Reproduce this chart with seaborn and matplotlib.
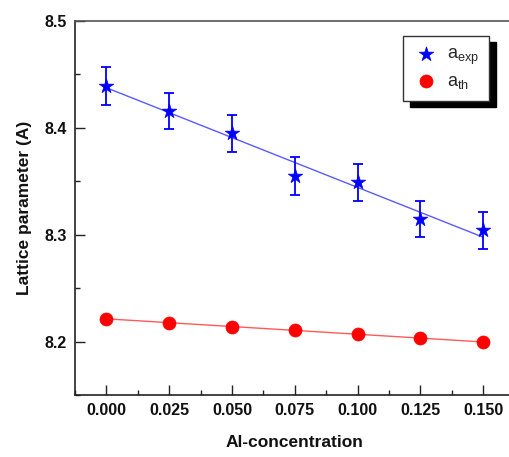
import numpy as np
import pandas as pd
import matplotlib
matplotlib.use("Agg")
import matplotlib.pyplot as plt
import matplotlib.legend as mleg
import seaborn as sns

# ---- data ----
al_conc = [0.000, 0.025, 0.050, 0.075, 0.100, 0.125, 0.150]
a_exp = [8.439, 8.416, 8.395, 8.355, 8.349, 8.315, 8.304]
a_exp_err = [0.0175, 0.0170, 0.0175, 0.0175, 0.0175, 0.0170, 0.0175]
a_th = [8.2213, 8.2176, 8.2141, 8.2104, 8.2069, 8.2035, 8.1994]
x_ticks = [0.000, 0.025, 0.050, 0.075, 0.100, 0.125, 0.150]
y_ticks = [8.2, 8.3, 8.4, 8.5]

df = pd.DataFrame({"x": al_conc, "exp": a_exp, "err": a_exp_err, "th": a_th})

sns.set_theme(style="ticks")
plt.rcParams["font.family"] = ["Liberation Sans", "DejaVu Sans"]
plt.rcParams["mathtext.fontset"] = "custom"
plt.rcParams["mathtext.rm"] = "Liberation Sans"
plt.rcParams["mathtext.it"] = "Liberation Sans"

# bigger black legend shadow offset
_Shadow = mleg.Shadow
mleg.Shadow = lambda patch, ox, oy, **kw: _Shadow(patch, ox * 2.4, oy * 2.4, **kw)

W, H = 510, 457
fig = plt.figure(figsize=(W / 100, H / 100), dpi=100)
left, right, top, bottom = 75, 514.7, 21, 395
ax = fig.add_axes([left / W, 1 - bottom / H, (right - left) / W, (bottom - top) / H])

blue = "#0000ff"
red = "#ff0000"

# fit lines
sns.regplot(data=df, x="x", y="exp", scatter=False, ci=None, ax=ax,
            line_kws=dict(color="#5a5aff", lw=1.0), truncate=True)
sns.regplot(data=df, x="x", y="th", scatter=False, ci=None, ax=ax,
            line_kws=dict(color="#ff5a5a", lw=1.0), truncate=True)

# error bars
ax.errorbar(df["x"], df["exp"], yerr=df["err"], fmt="none", ecolor=blue,
            elinewidth=1.3, capsize=3.6, capthick=1.3, zorder=3)

sns.scatterplot(data=df, x="x", y="exp", marker="*", s=120, color=blue,
                edgecolor=blue, linewidth=0.5, ax=ax, zorder=4, label=r"$\mathrm{a_{exp}}$")
sns.scatterplot(data=df, x="x", y="th", marker="o", s=88, color=red,
                edgecolor=red, linewidth=0.5, ax=ax, zorder=4, label=r"$\mathrm{a_{th}}$")

ax.set_xlim(-0.0125, 0.1625)
ax.set_ylim(8.15, 8.5)
ax.set_xticks(x_ticks)
ax.set_xticklabels([f"{v:.3f}" for v in x_ticks])
ax.set_yticks(y_ticks)
ax.set_yticklabels([f"{v:.1f}" for v in y_ticks])
ax.set_xticks(np.arange(-0.0125, 0.1626, 0.025), minor=True)
ax.set_yticks([8.15, 8.25, 8.35, 8.45], minor=True)

ax.tick_params(axis="both", which="major", direction="in", length=7, width=1,
               colors="#222222", labelsize=11.5, pad=6)
ax.tick_params(axis="both", which="minor", direction="in", length=3.5, width=1,
               colors="#222222")
for lab in ax.get_xticklabels() + ax.get_yticklabels():
    lab.set_fontweight("bold")
    lab.set_color("#111111")

for s in ["left", "bottom"]:
    ax.spines[s].set_color("#222222")
    ax.spines[s].set_linewidth(1.2)
ax.spines["top"].set_color("#555555")
ax.spines["top"].set_linewidth(1.2)
ax.spines["right"].set_visible(False)

ax.set_xlabel("Al-concentration", fontsize=12.5, fontweight="bold", labelpad=12, color="#111111")
ax.set_ylabel("Lattice parameter (A)", fontsize=12.5, fontweight="bold", labelpad=9, color="#111111")

leg = ax.legend(loc="upper right", bbox_to_anchor=(0.942, 0.961), borderaxespad=0,
                frameon=True, fancybox=False, shadow=dict(color="black", alpha=1),
                fontsize=13, edgecolor="#333333", framealpha=1, markerscale=1.0,
                handletextpad=0.5, borderpad=0.55, labelspacing=0.35, handlelength=1.4)
leg.get_frame().set_linewidth(1.0)

fig.savefig("out.png", dpi=100)
